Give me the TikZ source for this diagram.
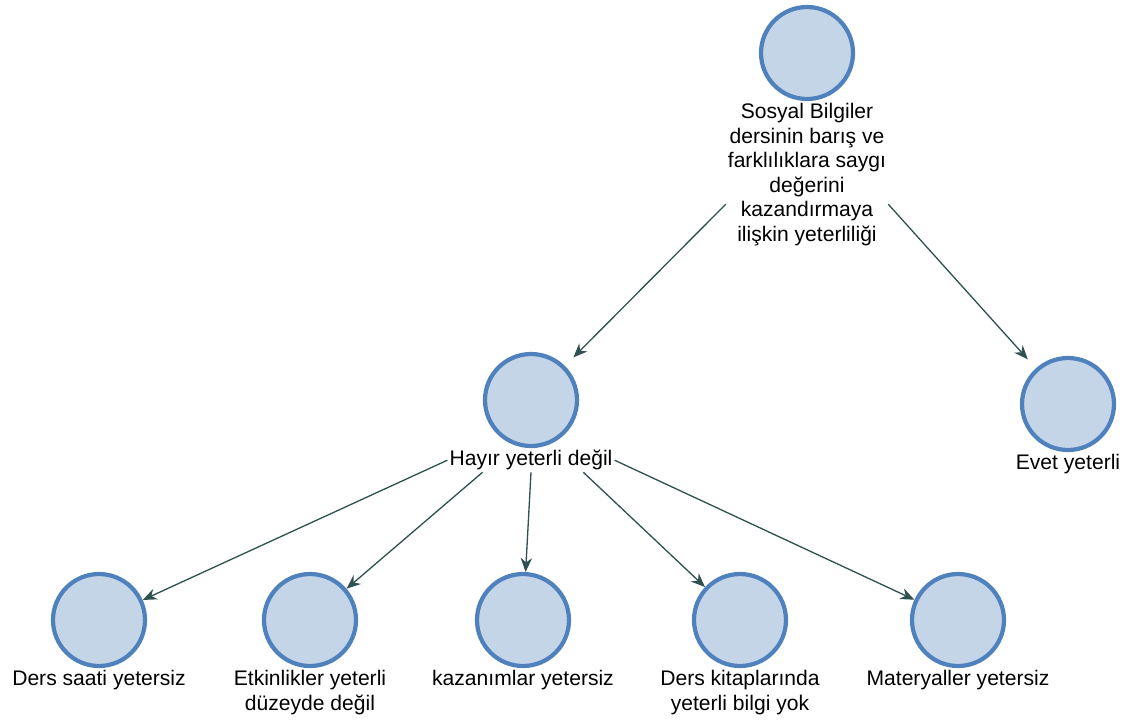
\documentclass[tikz,border=0pt]{standalone}
\usepackage{fontspec}
\setmainfont{Liberation Sans}
\usetikzlibrary{positioning,arrows.meta}

\definecolor{daireCizgi}{RGB}{79,129,189}
\definecolor{daireIc}{RGB}{197,213,232}
\definecolor{okRenk}{RGB}{47,82,80}

\tikzset{
  daire/.style={circle,draw=daireCizgi,fill=daireIc,line width=2.4pt,minimum size=1.84cm,inner sep=0pt},
  etiket/.style={align=center,inner sep=1pt,font=\fontsize{12}{14}\selectfont},
  ok/.style={draw=okRenk,line width=0.75pt,-{Stealth[length=8pt,width=6.5pt]}}
}

\begin{document}
\begin{tikzpicture}[x=0.2mm,y=-0.2mm]
\useasboundingbox (0,0) rectangle (1133,722);

%Daireler
\node[daire] (top) at (807,53) {};
\node[daire] (hayir) at (531,400) {};
\node[daire] (evet) at (1068,404) {};
\node[daire] (saat) at (99,620) {};
\node[daire] (etkinlik) at (310,620) {};
\node[daire] (kazanim) at (523,620) {};
\node[daire] (kitap) at (740,620) {};
\node[daire] (materyal) at (958,620) {};

%Etiketler
\node[etiket,below=0pt of top] (ltop) {Sosyal Bilgiler\\dersinin barış ve\\farklılıklara saygı\\değerini\\kazandırmaya\\ilişkin yeterliliği};
\node[etiket,below=0pt of hayir] (lhayir) {Hayır yeterli değil};
\node[etiket,below=0pt of evet] (levet) {Evet yeterli};
\node[etiket,below=0pt of saat] (lsaat) {Ders saati yetersiz};
\node[etiket,below=0pt of etkinlik] (letkinlik) {Etkinlikler yeterli\\düzeyde değil};
\node[etiket,below=0pt of kazanim] (lkazanim) {kazanımlar yetersiz};
\node[etiket,below=0pt of kitap] (lkitap) {Ders kitaplarında\\yeterli bilgi yok};
\node[etiket,below=0pt of materyal] (lmateryal) {Materyaller yetersiz};

%Oklar
\draw[ok,shorten >=2.4mm] (ltop.200) -- (hayir);
\draw[ok,shorten >=2.4mm] (ltop.-20) -- (evet);
\draw[ok] (lhayir.west) -- (saat);
\draw[ok] (lhayir.194) -- (etkinlik);
\draw[ok] (lhayir.south) -- (kazanim);
\draw[ok] (lhayir.-13) -- (kitap);
\draw[ok] (lhayir.east) -- (materyal);

\end{tikzpicture}
\end{document}
